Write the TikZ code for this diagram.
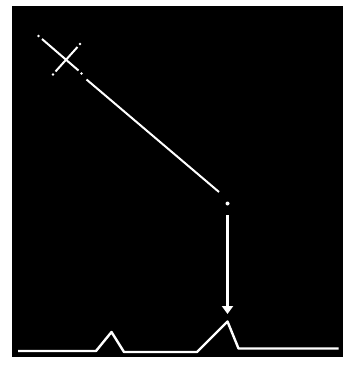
\documentclass[tikz,border=0pt]{standalone}
\usetikzlibrary{arrows.meta}
\tikzset{
  trace/.style={white, line width=2.4pt, line join=round},
  tick/.style={white, line width=2pt},
  spot/.style={fill=white, draw=none}
}
\begin{document}
\begin{tikzpicture}[x=1pt, y=-1pt, >=stealth, thick]
    \useasboundingbox (0,0) rectangle (344,366);
    \fill[black] (12,6) rectangle (343,357);

    % cross marking the source point
    \coordinate (c1) at (38.5,36);
    \coordinate (c2) at (81.5,73.5);
    \coordinate (c3) at (80,44);
    \coordinate (c4) at (53,74.5);
    \draw[tick] (42,39) -- (78.5,70.5);
    \draw[tick] (77.5,47) -- (55.5,71.5);
    \foreach \p in {c1,c2,c3,c4}
        \fill[spot] (\p) circle (1.4);

    % sloping line down to the point
    \coordinate (s1) at (86.5,79.5);
    \coordinate (s2) at (219,192);
    \coordinate (pt) at (227.5,203.5);
    \draw[tick] (s1) -- (s2);
    \fill[spot] (pt) circle (2);

    % arrow onto the peak
    \coordinate (a1) at (227.5,215);
    \coordinate (a2) at (227.5,314);
    \draw[white, line width=2.8pt, -{Triangle[length=8pt,width=11pt]}] (a1) -- (a2);

    % baseline with two peaks
    \draw[trace] (18,351) -- (96,351) -- (111.5,332) -- (124,352) -- (197,352)
        -- (227.5,321.5) -- (238.5,348.5) -- (338.5,348.5);
\end{tikzpicture}
\end{document}
